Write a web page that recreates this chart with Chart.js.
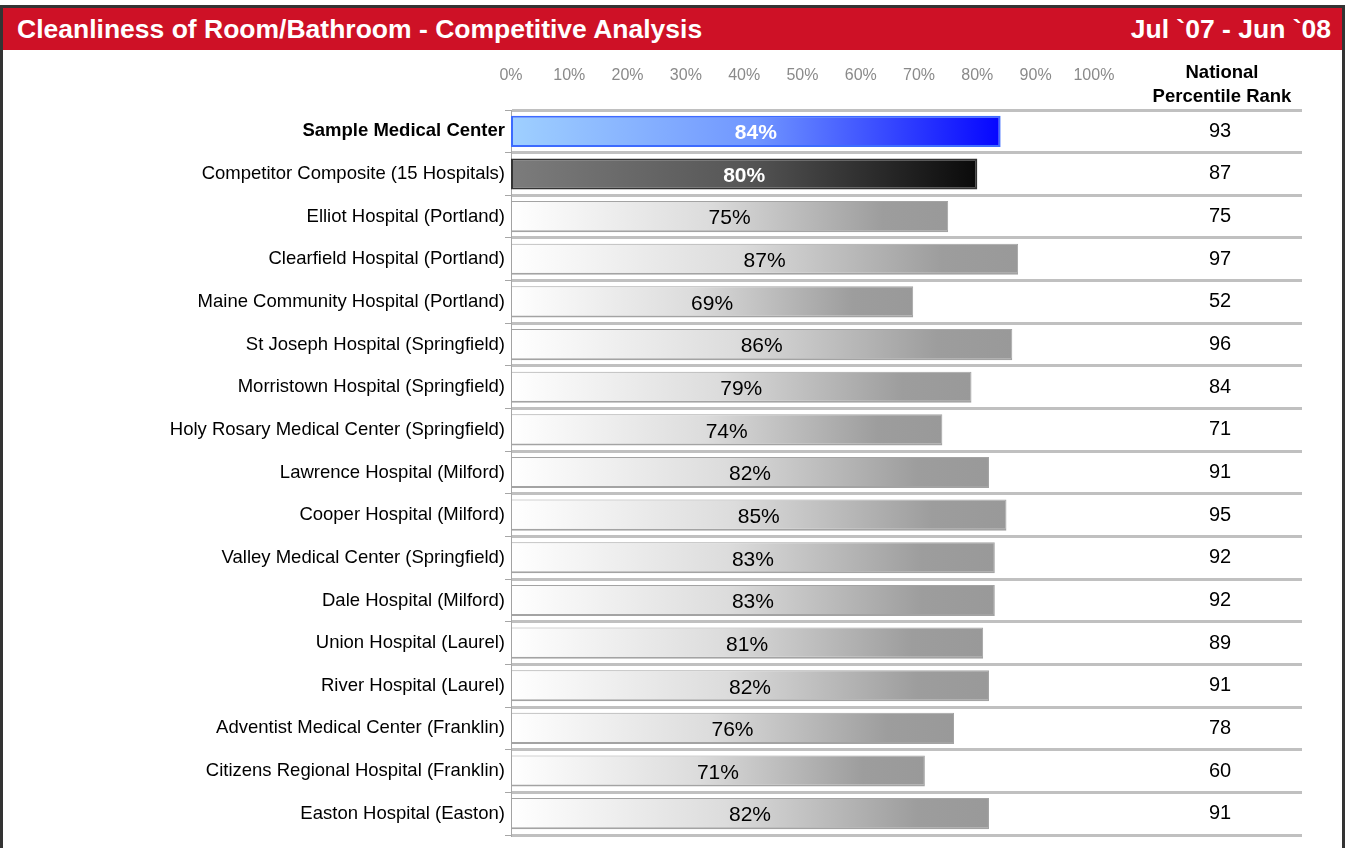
<!DOCTYPE html>
<html>
<head>
<meta charset="utf-8">
<script src="https://cdn.jsdelivr.net/npm/chart.js@4.4.1/dist/chart.umd.min.js"></script>
<style>
  body { margin: 0; background: #fff; font-family: Arial, "Liberation Sans", sans-serif; }
  #frame {
    position: absolute; left: 0; top: 5px; width: 1345px; height: 850px;
    box-sizing: border-box; border: 3px solid #333; border-bottom: none;
  }
  #header {
    height: 42px; background: #ce1126; color: #fff; font-weight: bold; font-size: 26.5px;
    display: flex; justify-content: space-between; align-items: center; padding: 0 11px 0 14px;
  }
  #wrap { position: absolute; left: 0; top: 42px; width: 1339px; height: 798px; }
</style>
</head>
<body>
<div id="frame">
  <div id="header"><span>Cleanliness of Room/Bathroom - Competitive Analysis</span><span>Jul `07 - Jun `08</span></div>
  <div id="wrap"><canvas id="chart"></canvas></div>
</div>
<script>
const hospitals = [
  "Sample Medical Center",
  "Competitor Composite (15 Hospitals)",
  "Elliot Hospital (Portland)",
  "Clearfield Hospital (Portland)",
  "Maine Community Hospital (Portland)",
  "St Joseph Hospital (Springfield)",
  "Morristown Hospital (Springfield)",
  "Holy Rosary Medical Center (Springfield)",
  "Lawrence Hospital (Milford)",
  "Cooper Hospital (Milford)",
  "Valley Medical Center (Springfield)",
  "Dale Hospital (Milford)",
  "Union Hospital (Laurel)",
  "River Hospital (Laurel)",
  "Adventist Medical Center (Franklin)",
  "Citizens Regional Hospital (Franklin)",
  "Easton Hospital (Easton)"
];
const scores = [84, 80, 75, 87, 69, 86, 79, 74, 82, 85, 83, 83, 81, 82, 76, 71, 82];
const ranks = [93, 87, 75, 97, 52, 96, 84, 71, 91, 95, 92, 92, 89, 91, 78, 60, 91];
const rankTitle = ["National", "Percentile Rank"];

const FONT = 'Arial, "Liberation Sans", sans-serif';

function barFill(context) {
  const chart = context.chart;
  if (!chart.chartArea) return "#ccc";
  const i = context.dataIndex;
  const x0 = chart.scales.x.getPixelForValue(0);
  const x1 = chart.scales.x.getPixelForValue(scores[i]);
  const g = chart.ctx.createLinearGradient(x0, 0, x1, 0);
  if (i === 0) {
    g.addColorStop(0, "#9fd0ff");
    g.addColorStop(0.5, "#7096ff");
    g.addColorStop(1, "#0505ff");
  } else if (i === 1) {
    g.addColorStop(0, "#7c7c7c");
    g.addColorStop(0.5, "#565656");
    g.addColorStop(1, "#0a0a0a");
  } else {
    g.addColorStop(0, "#ffffff");
    g.addColorStop(0.45, "#dcdcdc");
    g.addColorStop(0.85, "#9d9d9d");
    g.addColorStop(1, "#999999");
  }
  return g;
}

// value labels inside bars + rank column
const extras = {
  id: "extras",
  afterDatasetsDraw(chart) {
    const ctx = chart.ctx;
    const meta = chart.getDatasetMeta(0);
    ctx.save();
    ctx.textAlign = "center";
    ctx.textBaseline = "middle";
    meta.data.forEach((bar, i) => {
      const mid = (bar.base + bar.x) / 2;
      ctx.font = (i < 2 ? "bold " : "") + "21px " + FONT;
      ctx.fillStyle = i < 2 ? "#fff" : "#000";
      ctx.fillText(scores[i] + "%", mid, bar.y + 2);
    });
    const rx = chart.chartArea.right - 82;
    ctx.font = "20px " + FONT;
    ctx.fillStyle = "#000";
    ranks.forEach((r, i) => {
      ctx.fillText(String(r), rx, chart.scales.y.getPixelForValue(i));
    });
    ctx.font = "bold 18.5px " + FONT;
    ctx.fillText(rankTitle[0], rx + 2, 23);
    ctx.fillText(rankTitle[1], rx + 2, 47);
    ctx.restore();
  }
};

new Chart(document.getElementById("chart"), {
  type: "bar",
  data: {
    labels: hospitals,
    datasets: [{
      data: scores,
      backgroundColor: barFill,
      borderColor: (c) => c.dataIndex === 0 ? "#3d6bff" : c.dataIndex === 1 ? "#333333" : "#a3a3a3",
      borderWidth: (c) => c.dataIndex < 2 ? 2 : { top: 1, left: 1, right: 1, bottom: 2 },
      borderSkipped: false,
      barPercentage: 0.73,
      categoryPercentage: 1
    }]
  },
  options: {
    indexAxis: "y",
    responsive: true,
    maintainAspectRatio: false,
    animation: false,
    layout: { padding: { left: 0, top: 0, right: 40, bottom: 13 } },
    plugins: { legend: { display: false }, tooltip: { enabled: false } },
    scales: {
      x: {
        position: "top",
        min: 0,
        max: 135.7,
        grid: { display: false },
        border: { display: false },
        ticks: {
          stepSize: 10,
          padding: 17,
          maxRotation: 0,
          autoSkip: false,
          color: "#8a8a8a",
          font: { family: FONT, size: 16 },
          callback: (v) => v <= 100 ? v + "%" : ""
        },
        afterFit: (scale) => { scale.height = 60; }
      },
      y: {
        grid: {
          color: "#c0c0c0",
          lineWidth: 3,
          tickColor: "#a6a6a6",
          tickWidth: 1,
          tickLength: 6
        },
        border: { display: true, color: "#a6a6a6", width: 1 },
        ticks: {
          padding: 0,
          color: "#000",
          font: (c) => ({ family: FONT, size: 18.5, weight: c.index === 0 ? "bold" : "normal" })
        },
        afterFit: (scale) => { scale.width = 508; }
      }
    }
  },
  plugins: [extras]
});
</script>
</body>
</html>
